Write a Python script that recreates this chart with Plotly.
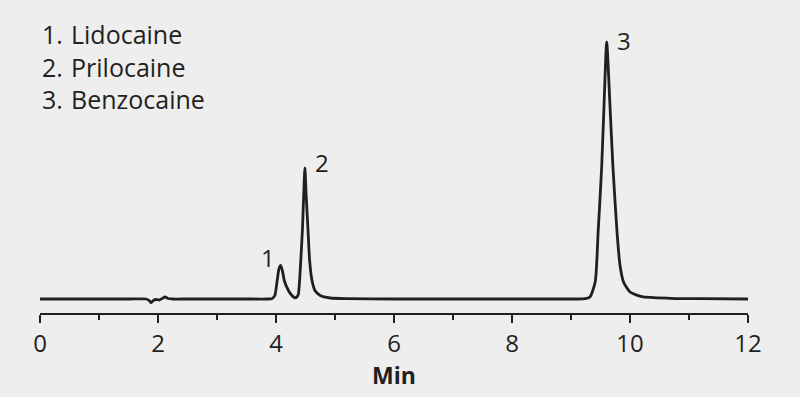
import plotly.graph_objects as go

# Retention time (min) and detector signal (arbitrary units, baseline = 0)
time_min = [0, 0.5, 1.0, 1.5, 1.8, 1.85, 1.88, 1.92, 1.97, 2.02, 2.07, 2.12, 2.17, 2.25,
            2.5, 3.0, 3.5, 3.85, 3.93, 3.98, 4.02, 4.05, 4.08, 4.11, 4.14, 4.21, 4.27,
            4.31, 4.33, 4.36, 4.38, 4.42, 4.45, 4.47, 4.49, 4.51, 4.54, 4.57, 4.61, 4.66,
            4.75, 4.92, 5.2, 6.0, 7.0, 8.0, 8.8, 9.1, 9.24, 9.32, 9.41, 9.46, 9.52, 9.56,
            9.605, 9.66, 9.71, 9.78, 9.83, 9.89, 10.0, 10.2, 10.68, 11.2, 12.0]
signal = [0, 0, 0, 0, 0, -1.5, -3.5, -1.5, -0.5, -1, 0.5, 2, 0.5, 0,
          0, 0, 0, 0, 0.3, 3.5, 18.5, 30, 33.5, 28, 18.5, 8.5, 3.5,
          1.5, 1.2, 2.5, 5, 38.5, 72, 105, 131, 105, 72, 38.5, 18.5, 8.5,
          3.5, 1, 0.3, 0, 0, 0, 0, 0, 0.3, 2, 17, 67, 132, 194,
          257, 194, 133, 67, 34, 17, 7, 2.3, 0.7, 0.3, 0]

legend_nums = ["1.", "2.", "3."]
legend_names = ["Lidocaine", "Prilocaine", "Benzocaine"]
peak_labels = ["1", "2", "3"]
peak_label_x = [3.86, 4.78, 9.9]
peak_label_y = [42, 137, 259]

x_ticks = [0, 2, 4, 6, 8, 10, 12]

INK = "#231f20"
BG = "#eeeeee"
FONT = "Open Sans"

fig = go.Figure()
fig.add_trace(go.Scatter(
    x=time_min, y=signal, mode="lines",
    line=dict(color=INK, width=2.8, shape="spline", smoothing=0.6),
    hoverinfo="skip", showlegend=False,
))

annotations = []
for i, (n, name) in enumerate(zip(legend_nums, legend_names)):
    ypix = 33.5 + i * 33
    annotations.append(dict(text=n, xref="paper", yref="paper",
                            x=0, xanchor="left", y=1 - (ypix - 20) / 293,
                            yanchor="middle", showarrow=False,
                            font=dict(family=FONT, size=25, color=INK)))
    annotations.append(dict(text=name, xref="paper", yref="paper",
                            x=(69 - 40) / 708, xanchor="left", y=1 - (ypix - 20) / 293,
                            yanchor="middle", showarrow=False,
                            font=dict(family=FONT, size=25, color=INK)))
for lbl, lx, ly in zip(peak_labels, peak_label_x, peak_label_y):
    annotations.append(dict(text=lbl, x=lx, y=ly, xref="x", yref="y",
                            showarrow=False, xanchor="center", yanchor="middle",
                            font=dict(family=FONT, size=24, color=INK)))

fig.update_layout(
    width=800, height=397,
    margin=dict(l=40, r=52, t=20, b=84),
    paper_bgcolor=BG, plot_bgcolor=BG,
    annotations=annotations,
    xaxis=dict(
        range=[0, 12], tickvals=x_ticks, ticktext=[str(v) for v in x_ticks],
        showgrid=False, zeroline=False, showline=True, linecolor=INK, linewidth=2,
        ticks="outside", ticklen=8, tickwidth=1.5, tickcolor=INK,
        minor=dict(dtick=1, ticks="outside", ticklen=5, tickwidth=1.5, tickcolor=INK),
        tickfont=dict(family=FONT, size=24, color=INK),
        title=dict(text="<b>Min</b>", font=dict(family=FONT, size=23, color=INK), standoff=4),
        fixedrange=True,
    ),
    yaxis=dict(range=[-14, 279], visible=False, fixedrange=True),
)

fig.write_html("out.html")
